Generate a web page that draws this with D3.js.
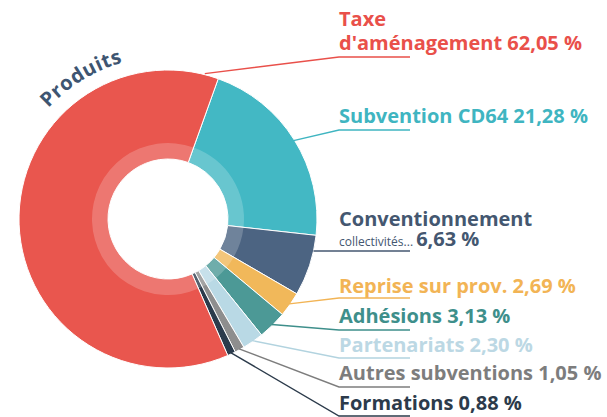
<!DOCTYPE html>
<html><head><meta charset="utf-8">
<script src="https://cdn.jsdelivr.net/npm/d3@7/dist/d3.min.js"></script>
<style>
html,body{margin:0;padding:0;background:#fff;}
svg{display:block;font-family:"Open Sans",sans-serif;}
</style></head>
<body><svg id="chart" width="607" height="417"></svg>
<script>
// ---- data ----
const categories = ["Subvention CD64", "Conventionnement", "Reprise sur prov.", "Adhésions", "Partenariats", "Autres subventions", "Formations", "Taxe d'aménagement"];
const values = [21.28, 6.63, 2.69, 3.13, 2.30, 1.05, 0.88, 62.05];
const colors = ["#43b8c4", "#4c6482", "#f1b85a", "#4c9996", "#b9d9e5", "#8e8e8e", "#2b3b4c", "#e9564e"];
const textColors = ["#3fb5c1", "#445770", "#f2b455", "#3e8f8b", "#bcd8e4", "#7d7d7d", "#2c3b4b", "#e9504a"];
const subLabel = "collectivités...";
const title = "Produits";

// ---- layout ----
const cx = 168, cy = 219, R = 149, r0 = 60, rBand = 76;
const startDeg = 19.7;
const labelX = 339, lineEnd = 410;
const labelLayout = [
  {lines:[123], elbow:130},
  {lines:[226, 246], elbow:251, horiz:true},
  {lines:[293], elbow:298},
  {lines:[323], elbow:330},
  {lines:[352], elbow:358},
  {lines:[380], elbow:387},
  {lines:[410], elbow:416},
  {lines:[26, 50], elbow:57}
];

const fmt = d3.formatLocale({decimal: ",", thousands: " ", grouping:[3], currency:["","€"]}).format(".2f");
const svg = d3.select("#chart");
const g = svg.append("g").attr("transform", `translate(${cx},${cy})`);
const toRad = d => d * Math.PI / 180;

const pie = d3.pie().sort(null).value(d => d)
  .startAngle(toRad(startDeg)).endAngle(toRad(startDeg) + 2 * Math.PI);
const arcs = pie(values);
const arc = d3.arc().innerRadius(r0).outerRadius(R);
const band = d3.arc().innerRadius(r0).outerRadius(rBand);

g.selectAll("path.slice").data(arcs).join("path")
  .attr("class", "slice")
  .attr("d", arc)
  .attr("fill", (d, i) => colors[i])
  .attr("stroke", "#fff").attr("stroke-width", 1);

g.selectAll("path.band").data(arcs).join("path")
  .attr("class", "band")
  .attr("d", band)
  .attr("fill", "#fff").attr("fill-opacity", 0.2);

// leader lines
const pt = (ang, rad) => [cx + rad * Math.sin(ang), cy - rad * Math.cos(ang)];
arcs.forEach((a, i) => {
  const L = labelLayout[i];
  let anchor;
  if (L.horiz) {
    const ang = Math.acos((cy - L.elbow) / R);
    anchor = pt(ang, R);
  } else if (i === arcs.length - 1) {
    anchor = pt(a.endAngle - toRad(5.5), R + 1);
  } else {
    anchor = pt((a.startAngle + a.endAngle) / 2, R - 1);
  }
  const pts = [anchor, [labelX, L.elbow], [lineEnd, L.elbow]];
  svg.append("path")
    .attr("d", d3.line()(pts))
    .attr("fill", "none")
    .attr("stroke", i === 4 ? "#b2d3df" : textColors[i])
    .attr("stroke-width", 1.4);
});

// labels
const fs = 20;
arcs.forEach((a, i) => {
  const L = labelLayout[i];
  const col = textColors[i];
  const pct = fmt(values[i]) + " %";
  const t = svg.append("text").attr("fill", col).attr("font-weight", 700).attr("font-size", fs)
    .attr("x", labelX).attr("y", L.lines[0]);
  if (i === 7) {
    const parts = categories[i].split(" ");
    t.append("tspan").attr("x", labelX).attr("y", L.lines[0]).text(parts[0]);
    t.append("tspan").attr("x", labelX).attr("y", L.lines[1]).text(parts.slice(1).join(" ") + " " + pct);
  } else if (L.lines.length === 2) {
    t.append("tspan").attr("x", labelX).attr("y", L.lines[0]).text(categories[i]);
    t.append("tspan").attr("x", labelX).attr("y", L.lines[1])
      .attr("font-size", 12).attr("font-weight", 400).text(subLabel + " ");
    t.append("tspan").attr("font-size", fs).attr("font-weight", 700).text(pct);
  } else {
    t.text(categories[i] + " " + pct);
  }
});

// curved title
const rt = 163;
const defs = svg.append("defs");
const a0 = toRad(-81.6), a1 = toRad(18.4);
const p0 = pt(a0, rt), p1 = pt(a1, rt);
defs.append("path").attr("id", "titlePath")
  .attr("d", `M${p0[0]},${p0[1]} A${rt},${rt} 0 0 1 ${p1[0]},${p1[1]}`);
svg.append("text").attr("fill", "#3e5571").attr("font-weight", 700).attr("font-size", 20)
  .attr("letter-spacing", 0.5)
  .append("textPath").attr("href", "#titlePath")
  .attr("startOffset", "50%")
  .attr("text-anchor", "middle")
  .text(title);
</script></body></html>
